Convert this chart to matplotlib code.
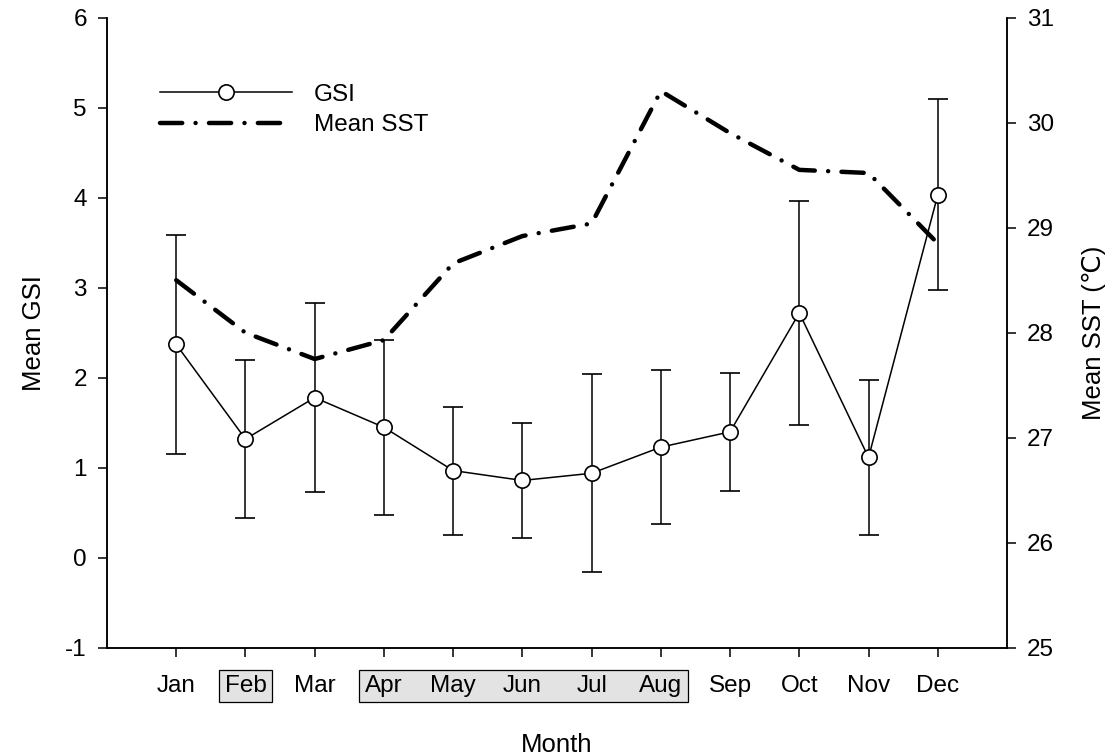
import matplotlib
matplotlib.use("Agg")
import matplotlib.pyplot as plt
from matplotlib.patches import Rectangle
from matplotlib.lines import Line2D

plt.rcParams["font.family"] = ["Liberation Sans", "DejaVu Sans"]
plt.rcParams["axes.unicode_minus"] = False

# ================== DATA ==================
months = ["Jan", "Feb", "Mar", "Apr", "May", "Jun",
          "Jul", "Aug", "Sep", "Oct", "Nov", "Dec"]
gsi_mean = [2.37, 1.32, 1.78, 1.45, 0.97, 0.86, 0.94, 1.23, 1.40, 2.72, 1.115, 4.03]
gsi_sd = [1.22, 0.88, 1.05, 0.97, 0.71, 0.64, 1.10, 0.855, 0.655, 1.24, 0.86, 1.06]
sst_mean = [28.50, 28.00, 27.75, 27.93, 28.66, 28.92, 29.04, 30.30, 29.90, 29.55, 29.52, 28.85]

boxed_groups = [["Feb"], ["Apr", "May", "Jun", "Jul", "Aug"]]

FS_TICK = 17.5
FS_LABEL = 18.5
W, H = 1120, 756

# ================== PLOT ==================
fig = plt.figure(figsize=(W / 100, H / 100), dpi=100)
ax = fig.add_axes([107 / W, 108 / H, 900 / W, (648 - 17.5) / H])
ax2 = ax.twinx()

x = list(range(1, len(months) + 1))

ax.errorbar(x, gsi_mean, yerr=gsi_sd, color="black", linewidth=1.1,
            elinewidth=1.1, capsize=7.2, capthick=1.1,
            marker="o", markersize=11, markerfacecolor="white",
            markeredgecolor="black", markeredgewidth=1.2, zorder=3)

sst_style = dict(color="black", linewidth=3.2,
                 linestyle=(0, (5, 3.0, 0.01, 3.0)), dash_capstyle="round")
ax2.plot(x, sst_mean, zorder=2, **sst_style)

ax.set_xlim(0, 13)
ax.set_ylim(-1, 6)
ax2.set_ylim(25, 31)
ax.set_xticks(x)
ax.set_xticklabels(months)
ax.set_yticks(range(-1, 7))
ax2.set_yticks(range(25, 32))

for a in (ax, ax2):
    a.spines["top"].set_visible(False)
    for s in a.spines.values():
        s.set_linewidth(1.1)
    a.tick_params(direction="out", length=6.5, width=1.1,
                  labelsize=FS_TICK, pad=8)
ax.tick_params(axis="x", pad=13)

ax.set_xlabel("Month", fontsize=FS_LABEL, labelpad=26)
ax.set_ylabel("Mean GSI", fontsize=FS_LABEL, labelpad=14)
ax2.set_ylabel("Mean SST (\u2103)", fontsize=FS_LABEL, labelpad=20)

handles = [
    Line2D([0], [0], color="black", linewidth=1.1, marker="o", markersize=11,
           markerfacecolor="white", markeredgecolor="black", markeredgewidth=1.2),
    Line2D([0], [0], **sst_style),
]
ax2.legend(handles, ["GSI", "Mean SST"], loc="upper left",
           bbox_to_anchor=(0.035, 0.93), frameon=False, fontsize=FS_TICK,
           handlelength=5.4, handletextpad=0.9, labelspacing=0.35)

# gray boxes around highlighted month labels
fig.canvas.draw()
renderer = fig.canvas.get_renderer()
labels = {t.get_text(): t for t in ax.get_xticklabels()}
for group in boxed_groups:
    bbs = [labels[m].get_window_extent(renderer) for m in group]
    x0 = min(b.x0 for b in bbs) - 6
    x1 = max(b.x1 for b in bbs) + 6
    y0 = min(b.y0 for b in bbs) - 5
    y1 = max(b.y1 for b in bbs) + 5
    rect = Rectangle((x0 / W, y0 / H), (x1 - x0) / W, (y1 - y0) / H,
                     transform=fig.transFigure, facecolor="#e3e3e3",
                     edgecolor="black", linewidth=0.9, zorder=-1)
    fig.patches.append(rect)

fig.savefig("out.png", dpi=100)
